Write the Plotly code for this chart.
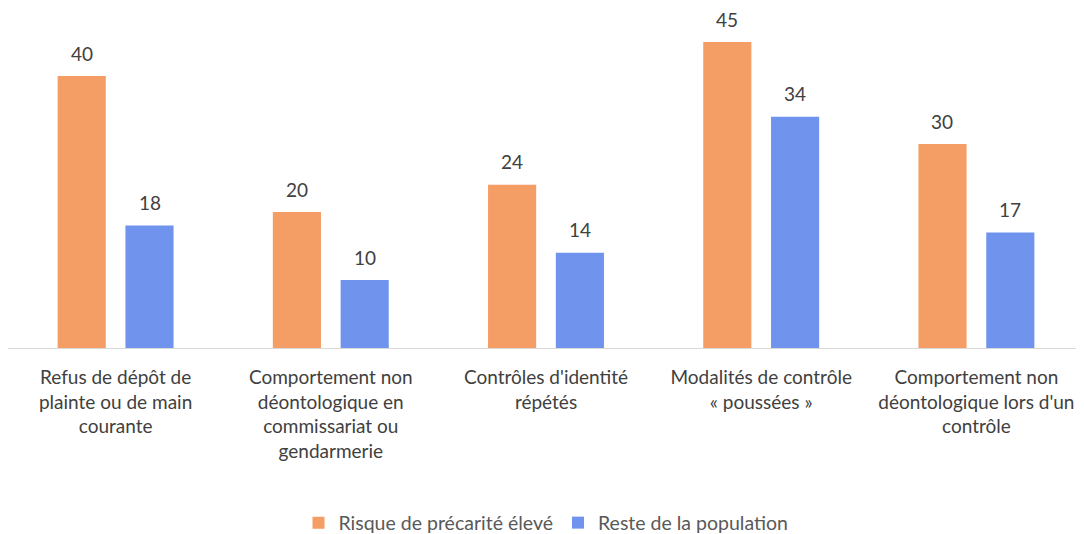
import plotly.graph_objects as go

categories = [
    "Refus de dépôt de<br>plainte ou de main<br>courante",
    "Comportement non<br>déontologique en<br>commissariat ou<br>gendarmerie",
    "Contrôles d'identité<br>répétés",
    "Modalités de contrôle<br>« poussées »",
    "Comportement non<br>déontologique lors d'un<br>contrôle",
]
series_names = ["Risque de précarité élevé", "Reste de la population"]
precarite = [40, 20, 24, 45, 30]
reste = [18, 10, 14, 34, 17]

colors = ["#F49D65", "#7094EE"]
font_family = "Lato, 'Open Sans', sans-serif"

fig = go.Figure()
for name, vals, col in zip(series_names, [precarite, reste], colors):
    fig.add_trace(go.Bar(x=categories, y=vals, name=name, marker_color=col,
                         marker_line_width=0))

annotations = []
for vals, shift in [(precarite, -34), (reste, 34)]:
    for c, v in zip(categories, vals):
        annotations.append(dict(x=c, y=v, xref="x", yref="y", text=str(v),
                                showarrow=False, xshift=shift, yshift=23,
                                yanchor="middle",
                                font=dict(size=19, color="#404040", family=font_family)))

fig.update_layout(
    width=1076, height=526,
    margin=dict(l=0, r=0, t=0, b=186, autoexpand=False),
    paper_bgcolor="white", plot_bgcolor="white",
    barmode="group", bargap=0.37, bargroupgap=0.29,
    font=dict(family=font_family, color="#404040", size=19),
    xaxis=dict(showline=True, linecolor="#D9D9D9", linewidth=1, ticks="",
               tickfont=dict(size=19, color="#404040"), showgrid=False,
               ticklabelstandoff=12, automargin=False),
    yaxis=dict(range=[0, 50], visible=False, showgrid=False),
    legend=dict(orientation="h", x=0.5, xanchor="center",
                yref="container", y=0.021, yanchor="middle",
                font=dict(size=19.5, color="#595959"), itemwidth=30),
    annotations=annotations,
    showlegend=True,
)

fig.write_html("out.html")
